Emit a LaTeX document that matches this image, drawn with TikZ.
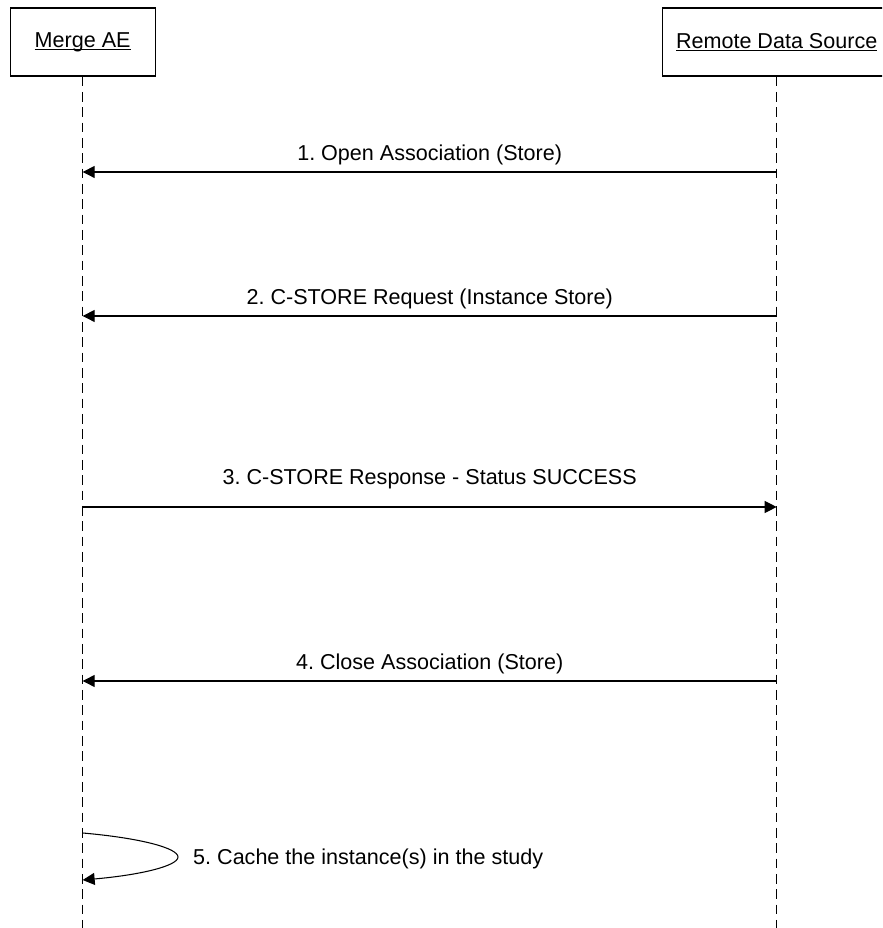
\documentclass[tikz,border=0pt]{standalone}
\usepackage{fontspec}
\setmainfont{Liberation Sans}
\usetikzlibrary{arrows.meta}
\frenchspacing

% underline that sits close to the baseline
\newcommand{\ulname}[1]{\setbox0\hbox{#1}\rlap{\rule[-0.08cm]{\wd0}{0.035cm}}\box0}

\begin{document}
\begin{tikzpicture}
            \tikzstyle{actor} = [draw, line width=0.9pt, minimum height=2.04cm, inner sep=0pt, font=\fontsize{18.4}{22}\selectfont]
            \tikzstyle{lifeline} = [line width=0.85pt, dash pattern=on 0.29cm off 0.17cm]
            \tikzstyle{msg} = [line width=0.9pt, -{Triangle[length=0.36cm, width=0.36cm]}]
            \tikzstyle{msgtext} = [inner sep=0pt, anchor=base, font=\fontsize{18.4}{22}\selectfont]
            \clip (0, 0) rectangle (26.46, 27.84);
            % the two parties
            \node[actor, minimum width=4.35cm] (merge) at (2.48, 26.58) {\ulname{Merge AE}};
            \node[actor, minimum width=6.84cm] (remote) at (23.3, 26.58) {\ulname{Remote Data Source}};
            \coordinate (mergeEnd) at (2.48, 0);
            \coordinate (remoteEnd) at (23.3, 0);
            \draw[lifeline] (merge.south) -- (mergeEnd);
            \draw[lifeline] (remote.south) -- (remoteEnd);
            % points on the lifelines
            \coordinate (m1) at (2.48, 22.68);
            \coordinate (r1) at (23.3, 22.68);
            \coordinate (m2) at (2.48, 18.36);
            \coordinate (r2) at (23.3, 18.36);
            \coordinate (m3) at (2.48, 12.63);
            \coordinate (r3) at (23.3, 12.63);
            \coordinate (m4) at (2.48, 7.41);
            \coordinate (r4) at (23.3, 7.41);
            \coordinate (m5a) at (2.48, 2.85);
            \coordinate (m5b) at (2.48, 1.44);
            \coordinate (turn) at (5.34, 2.13);
            % messages
            \draw[msg] (r1) -- (m1);
            \node[msgtext] (t1) at (12.89, 23.01) {1. Open Association (Store)};
            \draw[msg] (r2) -- (m2);
            \node[msgtext] (t2) at (12.89, 18.69) {2. C-STORE Request (Instance Store)};
            \draw[msg] (m3) -- (r3);
            \node[msgtext] (t3) at (12.89, 13.29) {3. C-STORE Response - Status SUCCESS};
            \draw[msg] (r4) -- (m4);
            \node[msgtext] (t4) at (12.89, 7.74) {4. Close Association (Store)};
            \draw[msg] (m5a) .. controls (4.2, 2.7) and (5.34, 2.4) .. (turn)
                .. controls (5.34, 1.86) and (4.2, 1.59) .. (m5b);
            \node[msgtext, anchor=base west] (t5) at (5.79, 1.89) {5. Cache the instance(s) in the study};
        \end{tikzpicture}
\end{document}
